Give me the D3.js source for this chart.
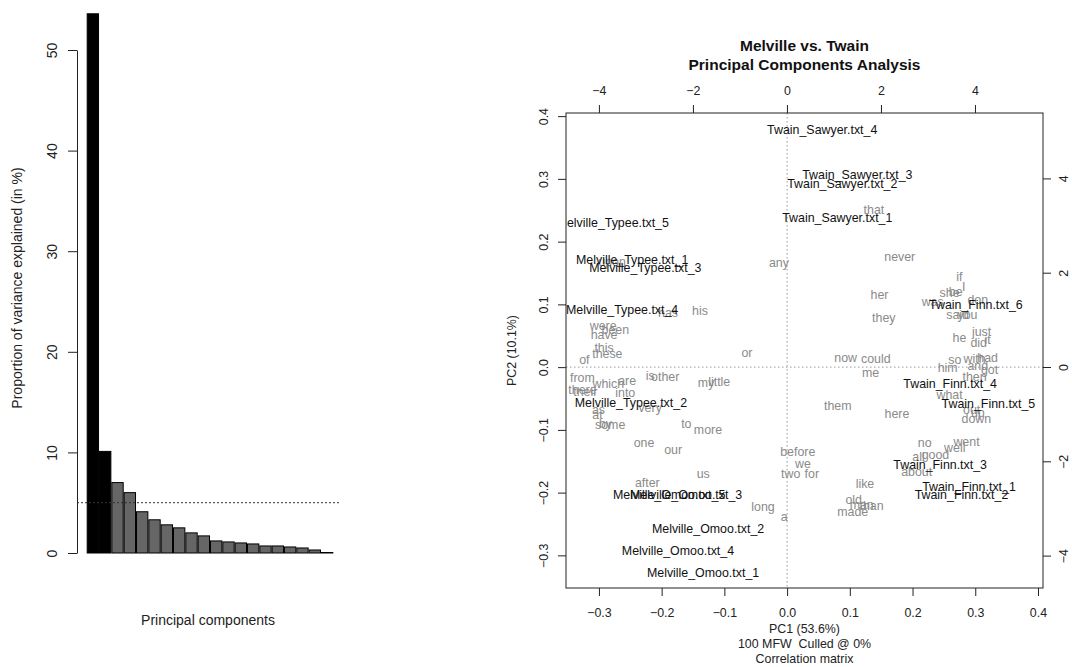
<!DOCTYPE html>
<html>
<head>
<meta charset="utf-8">
<script src="https://cdn.jsdelivr.net/npm/d3@7"></script>
<style>
  body { margin: 0; background: #fff; }
  svg { font-family: 'Liberation Sans', Arial, sans-serif; }
</style>
</head>
<body>
<div id="chart"></div>
<script>
// scree plot data
const pcLabels = ['PC1', 'PC2', 'PC3', 'PC4', 'PC5', 'PC6', 'PC7', 'PC8', 'PC9', 'PC10',
  'PC11', 'PC12', 'PC13', 'PC14', 'PC15', 'PC16', 'PC17', 'PC18', 'PC19', 'PC20']
const variance = [53.6, 10.1, 7.0, 6.0, 4.1, 3.3, 2.8, 2.5, 2.0, 1.7,
  1.2, 1.1, 1.0, 0.9, 0.7, 0.7, 0.6, 0.5, 0.3, 0.05]
const screeTicks = [0, 10, 20, 30, 40, 50]

// sample scores (PC1, PC2)
const sampleNames = ['Twain_Sawyer.txt_4', 'Twain_Sawyer.txt_3', 'Twain_Sawyer.txt_2', 'Twain_Sawyer.txt_1',
  'Melville_Typee.txt_5', 'Melville_Typee.txt_1', 'Melville_Typee.txt_3', 'Melville_Typee.txt_4',
  'Melville_Typee.txt_2', 'Melville_Omoo.txt_5', 'Melville_Omoo.txt_3', 'Melville_Omoo.txt_2',
  'Melville_Omoo.txt_4', 'Melville_Omoo.txt_1', 'Twain_Finn.txt_6', 'Twain_Finn.txt_4',
  'Twain_Finn.txt_5', 'Twain_Finn.txt_3', 'Twain_Finn.txt_1', 'Twain_Finn.txt_2']
const samplePC1 = [0.056, 0.112, 0.088, 0.080, -0.278, -0.247, -0.226, -0.263, -0.249, -0.188,
  -0.161, -0.126, -0.174, -0.134, 0.301, 0.260, 0.321, 0.244, 0.290, 0.278]
const samplePC2 = [0.378, 0.306, 0.293, 0.239, 0.231, 0.172, 0.158, 0.091, -0.057, -0.203,
  -0.203, -0.257, -0.292, -0.327, 0.100, -0.026, -0.059, -0.156, -0.190, -0.204]

// word loadings
const words = ['that', 'never', 'any', 'her', 'they', 'his', 'or', 'now', 'could', 'me',
  'them', 'here', 'no', 'went', 'well', 'good', 'all', 'about', 'like', 'old',
  'man', 'than', 'made', 'before', 'we', 'two', 'for', 'a', 'long', 'us',
  'after', 'one', 'our', 'to', 'more', 'some', 'by', 'at', 'as', 'very',
  'into', 'there', 'their', 'from', 'which', 'are', 'is', 'other', 'my', 'little',
  'of', 'these', 'this', 'were', 'have', 'been', 'has', 'upon',
  'if', 'I', 'she', 'be', 'was', 'don', 'said', 'you', 'he', 'just',
  'did', 'it', 'so', 'with', 'had', 'him', 'and', 'got', 'then', 'what',
  'out', 'up', 'down']
const loadX = [1.85, 2.40, -0.17, 1.97, 2.06, -1.85, -0.85, 1.25, 1.89, 1.78,
  1.08, 2.34, 2.93, 3.82, 3.57, 3.16, 2.80, 2.76, 1.66, 1.42,
  1.59, 1.80, 1.40, 0.23, 0.34, 0.08, 0.53, -0.06, -0.51, -1.78,
  -2.97, -3.04, -2.42, -2.14, -1.68, -3.76, -3.86, -4.03, -4.01, -2.91,
  -3.44, -4.35, -4.29, -4.35, -3.80, -3.40, -2.91, -2.59, -1.72, -1.44,
  -4.31, -3.82, -3.89, -3.91, -3.89, -3.65, -2.53, -3.72,
  3.67, 3.76, 3.46, 3.59, 3.10, 4.06, 3.63, 3.84, 3.67, 4.14,
  4.08, 4.27, 3.57, 3.99, 4.27, 3.42, 4.06, 4.31, 3.99, 3.46,
  3.93, 4.06, 4.03]
const loadY = [3.33, 2.34, 2.21, 1.53, 1.04, 1.19, 0.30, 0.19, 0.17, -0.11,
  -0.81, -0.98, -1.61, -1.59, -1.72, -1.85, -1.91, -2.23, -2.48, -2.82,
  -2.93, -2.95, -3.06, -1.80, -2.06, -2.27, -2.27, -3.18, -2.97, -2.27,
  -2.46, -1.61, -1.76, -1.21, -1.32, -1.23, -1.21, -1.02, -0.91, -0.87,
  -0.55, -0.49, -0.53, -0.23, -0.36, -0.28, -0.19, -0.21, -0.34, -0.32,
  0.15, 0.28, 0.42, 0.87, 0.68, 0.79, 1.15, 2.23,
  1.91, 1.70, 1.57, 1.59, 1.38, 1.42, 1.10, 1.10, 0.62, 0.74,
  0.51, 0.57, 0.15, 0.17, 0.19, -0.02, 0.02, -0.06, -0.21, -0.59,
  -0.91, -0.96, -1.10]

const pc1Ticks = [-0.3, -0.2, -0.1, 0.0, 0.1, 0.2, 0.3, 0.4]
const pc2Ticks = [-0.3, -0.2, -0.1, 0.0, 0.1, 0.2, 0.3, 0.4]
const loadTicks = [-4, -2, 0, 2, 4]

const svg = d3
  .select('#chart')
  .append('svg')
  .attr('width', 1072)
  .attr('height', 667)

// ---------- left: scree plot ----------
const left = svg.append('g').style('font-size', '14px')

const xBar = d3
  .scaleBand()
  .domain(pcLabels)
  .range([86.7, 333.3])
  .paddingInner(0.08)
  .paddingOuter(0.04)

const yBar = d3.scaleLinear().domain([0, 50]).range([553, 50])

left
  .selectAll('rect')
  .data(variance)
  .enter()
  .append('rect')
  .attr('x', (d, i) => xBar(pcLabels[i]))
  .attr('width', xBar.bandwidth())
  .attr('y', d => yBar(d))
  .attr('height', d => yBar(0) - yBar(d))
  .attr('fill', (d, i) => (i < 2 ? '#000' : '#666'))
  .attr('stroke', '#000')
  .attr('stroke-width', 1)

left
  .append('line')
  .attr('x1', 77)
  .attr('x2', 340)
  .attr('y1', yBar(5))
  .attr('y2', yBar(5))
  .attr('stroke', '#333')
  .attr('stroke-dasharray', '2,2')

const yAxisLeft = left
  .append('g')
  .attr('transform', 'translate(77,0)')
  .call(d3.axisLeft(yBar).tickValues(screeTicks).tickSize(9).tickSizeOuter(0))
yAxisLeft.selectAll('path, line').attr('stroke', '#222')
yAxisLeft
  .selectAll('text')
  .attr('x', 0)
  .attr('dy', 0)
  .attr('transform', 'translate(-20,0) rotate(-90)')
  .attr('text-anchor', 'middle')
  .attr('fill', '#222')
  .style('font-size', '14px')

left
  .append('text')
  .attr('transform', 'translate(22,288) rotate(-90)')
  .attr('text-anchor', 'middle')
  .attr('fill', '#222')
  .text('Proportion of variance explained (in %)')

left
  .append('text')
  .attr('x', 208)
  .attr('y', 625)
  .attr('text-anchor', 'middle')
  .attr('fill', '#222')
  .text('Principal components')

// ---------- right: PCA biplot ----------
const box = { left: 566, right: 1043, top: 113, bottom: 588 }
const right = svg.append('g').style('font-size', '12.4px')

const x = d3.scaleLinear().domain([-0.3525, 0.408]).range([box.left, box.right])
const y = d3.scaleLinear().domain([-0.352, 0.405]).range([box.bottom, box.top])
const xTop = d3.scaleLinear().domain([-4.70, 5.447]).range([box.left, box.right])
const yRight = d3.scaleLinear().domain([-4.687, 5.387]).range([box.bottom, box.top])

right
  .append('clipPath')
  .attr('id', 'plot-clip')
  .append('rect')
  .attr('x', box.left)
  .attr('y', box.top)
  .attr('width', box.right - box.left)
  .attr('height', box.bottom - box.top)

const plot = right.append('g').attr('clip-path', 'url(#plot-clip)')

// zero lines
plot
  .append('line')
  .attr('x1', x(0))
  .attr('x2', x(0))
  .attr('y1', box.top)
  .attr('y2', box.bottom)
  .attr('stroke', '#999')
  .attr('stroke-dasharray', '1.5,2.5')
plot
  .append('line')
  .attr('x1', box.left)
  .attr('x2', box.right)
  .attr('y1', y(0))
  .attr('y2', y(0))
  .attr('stroke', '#999')
  .attr('stroke-dasharray', '1.5,2.5')

// words in grey
plot
  .selectAll('.word')
  .data(words)
  .enter()
  .append('text')
  .attr('class', 'word')
  .attr('x', (d, i) => xTop(loadX[i]))
  .attr('y', (d, i) => yRight(loadY[i]))
  .attr('dy', '0.35em')
  .attr('text-anchor', 'middle')
  .attr('fill', '#8a8a8a')
  .text(d => d)

// samples in black
plot
  .selectAll('.sample')
  .data(sampleNames)
  .enter()
  .append('text')
  .attr('class', 'sample')
  .attr('x', (d, i) => x(samplePC1[i]))
  .attr('y', (d, i) => y(samplePC2[i]))
  .attr('dy', '0.35em')
  .attr('text-anchor', 'middle')
  .attr('fill', '#111')
  .text(d => d)

// axes
function styleAxis(g) {
  g.select('.domain').remove()
  g.selectAll('line').attr('stroke', '#222')
  g.selectAll('text').attr('fill', '#222').style('font-size', '12.4px')
}

right
  .append('g')
  .attr('transform', `translate(0,${box.bottom})`)
  .call(d3.axisBottom(x).tickValues(pc1Ticks).tickFormat(d3.format('.1f')).tickSize(8))
  .call(styleAxis)
  .selectAll('text')
  .attr('y', 0)
  .attr('dy', 0)
  .attr('transform', 'translate(0,29)')

right
  .append('g')
  .attr('transform', `translate(0,${box.top})`)
  .call(d3.axisTop(xTop).tickValues(loadTicks).tickFormat(d3.format('d')).tickSize(8))
  .call(styleAxis)
  .selectAll('text')
  .attr('y', 0)
  .attr('dy', 0)
  .attr('transform', 'translate(0,-18.5)')

right
  .append('g')
  .attr('transform', `translate(${box.left},0)`)
  .call(d3.axisLeft(y).tickValues(pc2Ticks).tickFormat(d3.format('.1f')).tickSize(8))
  .call(styleAxis)
  .selectAll('text')
  .attr('x', 0)
  .attr('dy', 0)
  .attr('text-anchor', 'middle')
  .attr('transform', 'translate(-18,0) rotate(-90)')

right
  .append('g')
  .attr('transform', `translate(${box.right},0)`)
  .call(d3.axisRight(yRight).tickValues(loadTicks).tickFormat(d3.format('d')).tickSize(8))
  .call(styleAxis)
  .selectAll('text')
  .attr('x', 0)
  .attr('dy', 0)
  .attr('text-anchor', 'middle')
  .attr('transform', 'translate(25,0) rotate(-90)')

right
  .append('rect')
  .attr('x', box.left)
  .attr('y', box.top)
  .attr('width', box.right - box.left)
  .attr('height', box.bottom - box.top)
  .attr('fill', 'none')
  .attr('stroke', '#222')

// titles
const cx = (box.left + box.right) / 2
right
  .append('text')
  .attr('x', cx)
  .attr('y', 51)
  .attr('text-anchor', 'middle')
  .style('font-weight', 'bold')
  .style('font-size', '15.5px')
  .attr('fill', '#111')
  .text('Melville vs. Twain')
right
  .append('text')
  .attr('x', cx)
  .attr('y', 70)
  .attr('text-anchor', 'middle')
  .style('font-weight', 'bold')
  .style('font-size', '15.5px')
  .attr('fill', '#111')
  .text('Principal Components Analysis')

const subLines = ['PC1 (53.6%)', '100 MFW  Culled @ 0%', 'Correlation matrix']
right
  .selectAll('.sub')
  .data(subLines)
  .enter()
  .append('text')
  .attr('class', 'sub')
  .attr('x', cx)
  .attr('y', (d, i) => 633 + i * 15)
  .attr('text-anchor', 'middle')
  .attr('fill', '#222')
  .style('white-space', 'pre')
  .text(d => d)

right
  .append('text')
  .attr('transform', `translate(516,${(box.top + box.bottom) / 2}) rotate(-90)`)
  .attr('text-anchor', 'middle')
  .attr('fill', '#222')
  .text('PC2 (10.1%)')
</script>
</body>
</html>
